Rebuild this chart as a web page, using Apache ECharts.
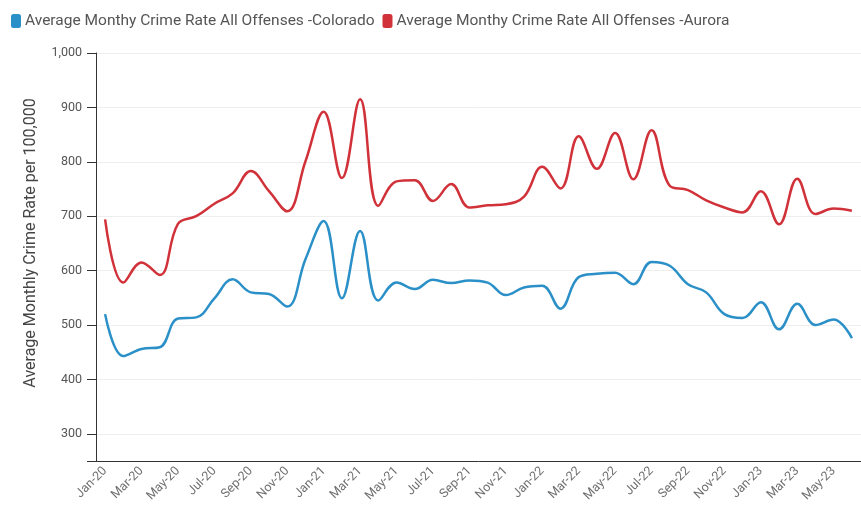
<!DOCTYPE html>
<html>
<head>
<meta charset="utf-8">
<script src="https://cdn.jsdelivr.net/npm/echarts@6/dist/echarts.min.js"></script>
<style>
  html, body { margin: 0; padding: 0; background: #fff; }
  #chart { width: 861px; height: 512px; }
</style>
</head>
<body>
<div id="chart"></div>
<script>
// months shown on the x axis
const months = [
  'Jan-20', 'Feb-20', 'Mar-20', 'Apr-20', 'May-20', 'Jun-20', 'Jul-20', 'Aug-20', 'Sep-20', 'Oct-20', 'Nov-20', 'Dec-20',
  'Jan-21', 'Feb-21', 'Mar-21', 'Apr-21', 'May-21', 'Jun-21', 'Jul-21', 'Aug-21', 'Sep-21', 'Oct-21', 'Nov-21', 'Dec-21',
  'Jan-22', 'Feb-22', 'Mar-22', 'Apr-22', 'May-22', 'Jun-22', 'Jul-22', 'Aug-22', 'Sep-22', 'Oct-22', 'Nov-22', 'Dec-22',
  'Jan-23', 'Feb-23', 'Mar-23', 'Apr-23', 'May-23', 'Jun-23',
];

// Colorado
const colorado = [
  520, 443, 456, 459, 512, 514, 549, 584, 560, 557, 534, 621,
  691, 549, 673, 545, 578, 566, 583, 577, 582, 578, 555, 569,
  572, 530, 588, 594, 596, 575, 616, 609, 575, 560, 520, 513,
  542, 492, 539, 500, 510, 476,
];

// Aurora
const aurora = [
  694, 578, 615, 592, 686, 700, 723, 742, 783, 746, 709, 801,
  892, 770, 915, 719, 764, 766, 728, 759, 716, 720, 722, 736,
  791, 751, 847, 787, 853, 768, 858, 756, 748, 729, 716, 707,
  746, 685, 769, 704, 714, 710,
];

const seriesNames = [
  'Average Monthy Crime Rate All Offenses -Colorado',
  'Average Monthy Crime Rate All Offenses -Aurora',
];

const chart = echarts.init(document.getElementById('chart'));
const font = 'Roboto, "Noto Sans", sans-serif';

const option = {
  color: ['#2b90c8', '#d1323a'],
  textStyle: { fontFamily: font },
  legend: {
    left: 6,
    top: 8,
    icon: 'roundRect',
    itemWidth: 10,
    itemHeight: 14,
    itemGap: 8,
    textStyle: { fontSize: 15.5, color: '#555', fontFamily: font, padding: [0, 0, 0, -1] },
  },
  grid: {
    left: 96,
    right: 0,
    top: 53,
    bottom: 51,
  },
  xAxis: {
    type: 'category',
    data: months,
    boundaryGap: true,
    axisLine: { lineStyle: { color: '#333' } },
    axisTick: { alignWithLabel: true, interval: 0, length: 7, lineStyle: { color: '#333' } },
    axisLabel: {
      interval: 1,
      rotate: 45,
      fontSize: 12.5,
      color: '#707070',
      margin: 8,
    },
  },
  yAxis: {
    type: 'value',
    min: 250,
    max: 1000,
    splitNumber: 7,
    name: 'Average Monthly Crime Rate per 100,000',
    nameLocation: 'middle',
    nameGap: 57,
    nameTextStyle: { fontSize: 16, color: '#444', padding: [0, 0, 0, 28] },
    axisLine: { show: true, lineStyle: { color: '#333' } },
    axisTick: { show: true, length: 9, lineStyle: { color: '#333' } },
    axisLabel: {
      fontSize: 12.5,
      color: '#555',
      margin: 14,
      formatter: (v) => (v % 100 === 0 ? v.toLocaleString('en-US') : ''),
    },
    splitLine: { lineStyle: { color: '#eee' } },
  },
  series: [
    {
      name: seriesNames[0],
      type: 'line',
      data: colorado,
      smooth: 0.4,
      showSymbol: false,
      lineStyle: { width: 2.5 },
    },
    {
      name: seriesNames[1],
      type: 'line',
      data: aurora,
      smooth: 0.4,
      showSymbol: false,
      lineStyle: { width: 2.5 },
    },
  ],
};

chart.setOption(option);
</script>
</body>
</html>
